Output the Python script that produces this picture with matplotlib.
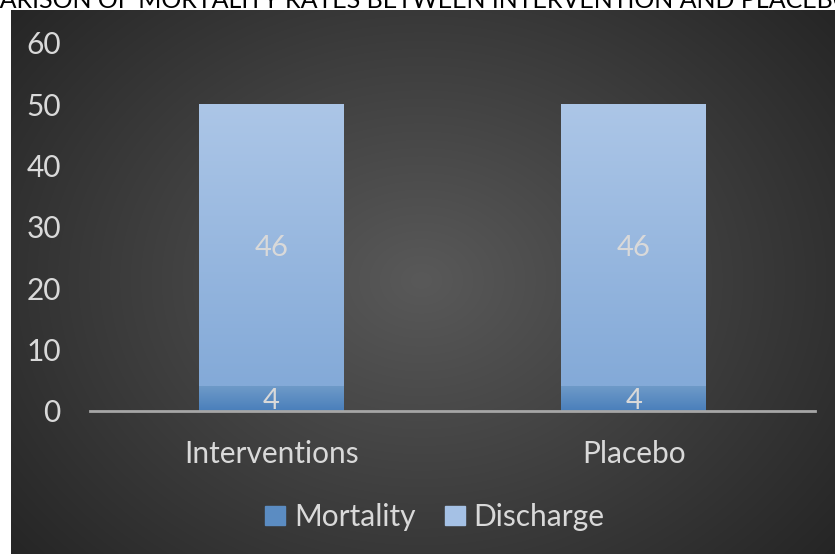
import numpy as np
import matplotlib
matplotlib.use("Agg")
import matplotlib.pyplot as plt
from matplotlib.colors import LinearSegmentedColormap

plt.rcParams['font.family'] = ['Lato', 'DejaVu Sans']

categories = ['Interventions', 'Placebo']
mortality = [4, 4]
discharge = [46, 46]
title = 'COMPARISON OF MORTALITY RATES BETWEEN INTERVENTION AND PLACEBO'

W, H = 835, 554
fig = plt.figure(figsize=(W / 100, H / 100), dpi=100)
fig.patch.set_facecolor('white')

# dark radial background panel
bg = fig.add_axes([11 / W, 0, 1 - 11 / W, (H - 10) / H])
bg.set_axis_off()
yy, xx = np.mgrid[0:544, 0:824]
cx, cy = 410, 270
r = np.sqrt(((xx - cx) / 540.0) ** 2 + ((yy - cy) / 430.0) ** 2)
r = np.clip(r, 0, 1)
c0, c1 = 0x59 / 255, 0x25 / 255
img = c0 + (c1 - c0) * r
bg.imshow(np.dstack([img, img, img]), aspect='auto', extent=[0, 1, 0, 1])
bg.set_xlim(0, 1)
bg.set_ylim(0, 1)

fig.text(0.466, 1 - 8 / H, title, ha='center', va='baseline',
         fontsize=18.0, color='black')

ax = fig.add_axes([90 / W, (H - 411) / H, 725 / W, (411 - 43) / H])
ax.patch.set_alpha(0)
x = np.arange(len(categories))
width = 0.4
b1 = ax.bar(x, mortality, width, color='#5b8cc2', label='Mortality', zorder=2)
b2 = ax.bar(x, discharge, width, bottom=mortality, color='#9ab8e0',
            label='Discharge', zorder=2)


def grad_fill(bars, top, bottom):
    cmap = LinearSegmentedColormap.from_list('g', [bottom, top])
    for b in bars:
        x0, y0 = b.get_x(), b.get_y()
        w, h = b.get_width(), b.get_height()
        im = ax.imshow(np.linspace(1, 0, 100).reshape(-1, 1), cmap=cmap,
                       aspect='auto', extent=[x0, x0 + w, y0, y0 + h],
                       zorder=3, vmin=0, vmax=1)
        im.set_clip_path(b)


grad_fill(b1, '#6e9ac8', '#4a7fbb')
grad_fill(b2, '#acc6e7', '#84aad8')

for i in range(len(categories)):
    ax.text(x[i], mortality[i] / 2, str(mortality[i]), ha='center',
            va='center_baseline', fontsize=21, color='#d9d9d9', zorder=4)
    ax.text(x[i], mortality[i] + discharge[i] / 2, str(discharge[i]),
            ha='center', va='center_baseline', fontsize=21, color='#d9d9d9',
            zorder=4)

ax.set_xlim(-0.5, 1.5)
ax.set_ylim(0, 60)
ax.set_yticks(range(0, 61, 10))
ax.set_xticks(x)
ax.set_xticklabels(categories)
for s in ['top', 'right', 'left']:
    ax.spines[s].set_visible(False)
ax.spines['bottom'].set_color('#a6a6a6')
ax.spines['bottom'].set_linewidth(2)
ax.spines['bottom'].set_zorder(5)
ax.tick_params(axis='y', length=0, pad=21, labelsize=21.5, colors='#d9d9d9')
ax.tick_params(axis='x', length=0, pad=21, labelsize=21.5, colors='#d9d9d9')

leg = fig.legend(handles=[b1, b2], labels=['Mortality', 'Discharge'],
                 loc='center', bbox_to_anchor=(435 / W, 1 - 517 / H), ncol=2,
                 frameon=False, fontsize=21.5, handlelength=0.65,
                 handleheight=0.65, handletextpad=0.3, columnspacing=1.0,
                 labelcolor='#d9d9d9')
leg.legend_handles[0].set_color('#5b8cc2')
leg.legend_handles[1].set_color('#a5c1e5')

fig.savefig('out.png', dpi=100)
